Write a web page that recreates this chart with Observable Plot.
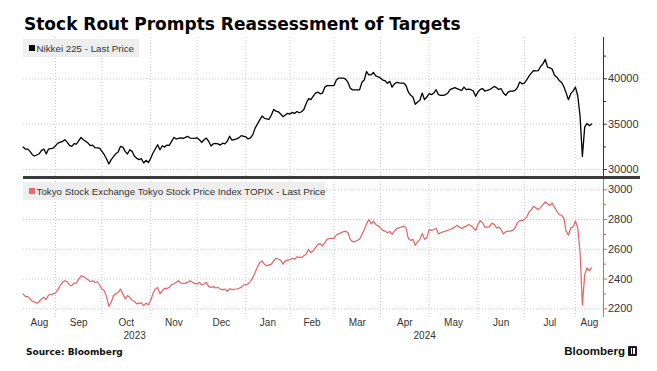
<!DOCTYPE html>
<html><head><meta charset="utf-8">
<script src="https://cdn.jsdelivr.net/npm/d3@7"></script>
<script src="https://cdn.jsdelivr.net/npm/@observablehq/plot@0.6"></script>
<style>
body{margin:0;background:#fff}
#chart{position:relative;width:657px;height:371px;overflow:hidden;background:#fff;font-family:"Liberation Sans",Arial,sans-serif}
.abs{position:absolute}
#title{left:24px;top:14px;font:bold 17px/20px "DejaVu Sans",sans-serif;color:#000;white-space:nowrap}
.legend{display:flex;align-items:center;box-sizing:border-box;height:18px;background:#eeeeee;color:#333;font-size:9.75px;padding-left:6px;white-space:nowrap}
.legend .sw{width:6px;height:6px;margin-right:1.5px;flex:none}
#sep{left:23px;top:176px;width:617px;height:2.6px;background:#3a3a3a}
#source{left:26px;top:346px;font:bold 9px/12px "DejaVu Sans",sans-serif;color:#111;white-space:nowrap}
#logo{right:20px;top:343px;display:flex;align-items:center;font:bold 11.5px/16px "Liberation Sans",Arial,sans-serif;color:#111}
#logo .ic{width:9px;height:10px;background:#1a1a1a;margin-left:3px;border-radius:1px;position:relative}
#logo .ic:before,#logo .ic:after{content:"";position:absolute;top:2px;width:1.5px;height:6px;background:#fff}
#logo .ic:before{left:2.5px}
#logo .ic:after{left:5px}
</style>
</head>
<body>
<div id="chart">
  <div id="title" class="abs">Stock Rout Prompts Reassessment of Targets</div>
  <div id="top" class="abs" style="left:0;top:37px"></div>
  <div id="bottom" class="abs" style="left:0;top:178px"></div>
  <div id="sep" class="abs"></div>
  <div class="abs legend" style="left:23px;top:39px;width:116px"><span class="sw" style="background:#000"></span>Nikkei 225 - Last Price</div>
  <div class="abs legend" style="left:23px;top:182px;width:302px"><span class="sw" style="background:#f06868"></span>Tokyo Stock Exchange Tokyo Stock Price Index TOPIX - Last Price</div>
  <div id="source" class="abs">Source: Bloomberg</div>
  <div id="logo" class="abs">Bloomberg<span class="ic"></span></div>
</div>
<script>
// ---- data ----
const holidays = ["2023-08-11","2023-09-18","2023-10-09","2023-11-03","2023-11-23","2024-01-01","2024-01-02","2024-01-03","2024-01-08","2024-02-12","2024-02-23","2024-03-20","2024-04-29","2024-05-03","2024-05-06","2024-07-15","2024-08-12"];
const calendarStart = "2023-08-14";
const calendarEnd = "2024-08-23";
const monthLabels = ["Aug","Sep","Oct","Nov","Dec","Jan","Feb","Mar","Apr","May","Jun","Jul","Aug"];
const yearLabels = ["2023","2024"];
const nikkeiTicks = [30000,35000,40000];
const nikkeiMinor = [32500,37500,42500];
const topixTicks = [2200,2400,2600,2800,3000];
const topixMinor = [2300,2500,2700,2900];

const nikkei = [
["2023-08-14",32480],["2023-08-15",32260],["2023-08-16",32260],["2023-08-17",32010],["2023-08-18",31640],["2023-08-21",31500],["2023-08-23",31750],["2023-08-24",32120],["2023-08-25",32260],["2023-08-28",31720],["2023-08-29",32260],["2023-08-31",32370],
["2023-09-01",32630],["2023-09-04",32920],["2023-09-06",33100],["2023-09-07",33290],["2023-09-08",33030],["2023-09-11",32660],["2023-09-12",32560],["2023-09-13",32850],["2023-09-14",32810],["2023-09-19",33540],["2023-09-20",33290],["2023-09-22",32920],["2023-09-25",32630],["2023-09-26",32700],["2023-09-27",32410],["2023-09-29",32370],
["2023-10-02",32010],["2023-10-03",31640],["2023-10-04",31170],["2023-10-05",30620],["2023-10-06",31100],["2023-10-11",31750],["2023-10-12",31930],["2023-10-13",32560],["2023-10-16",32480],["2023-10-17",32010],["2023-10-18",31720],["2023-10-19",32190],["2023-10-20",32010],["2023-10-23",31460],["2023-10-24",31240],["2023-10-25",31100],["2023-10-26",31200],["2023-10-27",30730],["2023-10-30",31020],["2023-10-31",30770],
["2023-11-01",31240],["2023-11-02",31830],["2023-11-07",32740],["2023-11-08",32190],["2023-11-09",32630],["2023-11-10",32480],["2023-11-13",32700],["2023-11-14",32660],["2023-11-16",33540],["2023-11-17",33390],["2023-11-21",33500],["2023-11-22",33430],["2023-11-27",33650],["2023-11-28",33470],["2023-11-30",33430],
["2023-12-01",33500],["2023-12-04",33290],["2023-12-05",32990],["2023-12-06",33290],["2023-12-07",33470],["2023-12-08",33100],["2023-12-11",32590],["2023-12-12",32840],["2023-12-13",32880],["2023-12-14",32840],["2023-12-15",32700],["2023-12-18",32910],["2023-12-19",32840],["2023-12-20",33130],["2023-12-21",33670],["2023-12-22",33240],["2023-12-25",33310],["2023-12-26",33380],["2023-12-27",33490],["2023-12-28",33740],
["2024-01-04",33600],["2024-01-05",33380],["2024-01-09",33490],["2024-01-10",33850],["2024-01-11",34570],["2024-01-15",35470],["2024-01-16",35900],["2024-01-17",35650],["2024-01-19",35540],["2024-01-22",36010],["2024-01-23",36620],["2024-01-24",36440],["2024-01-25",36370],["2024-01-26",36120],["2024-01-29",35830],["2024-01-30",36010],["2024-01-31",36190],
["2024-02-01",36120],["2024-02-02",36300],["2024-02-05",36190],["2024-02-06",36400],["2024-02-07",36260],["2024-02-08",36370],["2024-02-09",36620],["2024-02-13",37270],["2024-02-14",37810],["2024-02-15",37700],["2024-02-16",38060],["2024-02-19",38420],["2024-02-20",38530],["2024-02-21",38350],["2024-02-22",38420],["2024-02-26",39070],["2024-02-27",39250],["2024-02-28",39250],
["2024-03-01",39250],["2024-03-04",39860],["2024-03-05",40080],["2024-03-07",40080],["2024-03-08",39970],["2024-03-11",39610],["2024-03-12",38960],["2024-03-13",38780],["2024-03-14",38780],["2024-03-18",38780],["2024-03-19",39610],["2024-03-21",39860],["2024-03-22",40800],["2024-03-25",40440],["2024-03-26",40440],["2024-03-27",40690],["2024-03-28",40330],["2024-03-29",40220],
["2024-04-01",40080],["2024-04-02",39860],["2024-04-03",39790],["2024-04-04",39500],["2024-04-05",39720],["2024-04-08",39070],["2024-04-09",39430],["2024-04-10",39610],["2024-04-11",39540],["2024-04-12",39530],["2024-04-15",39530],["2024-04-16",39270],["2024-04-17",38550],["2024-04-18",38180],["2024-04-19",37990],["2024-04-22",37190],["2024-04-23",37450],["2024-04-24",37630],["2024-04-25",38430],["2024-04-26",37700],["2024-04-30",37990],
["2024-05-01",38360],["2024-05-02",38250],["2024-05-07",38430],["2024-05-08",38800],["2024-05-09",38250],["2024-05-10",38180],["2024-05-13",38180],["2024-05-14",38250],["2024-05-15",38430],["2024-05-16",38800],["2024-05-17",38910],["2024-05-20",39020],["2024-05-21",38910],["2024-05-22",38800],["2024-05-23",38720],["2024-05-24",39090],["2024-05-27",38800],["2024-05-28",38870],["2024-05-29",38800],["2024-05-30",38650],["2024-05-31",38070],
["2024-06-03",38540],["2024-06-04",38830],["2024-06-05",38910],["2024-06-06",38650],["2024-06-07",38720],["2024-06-10",38800],["2024-06-12",39160],["2024-06-13",39020],["2024-06-14",38830],["2024-06-17",38910],["2024-06-18",38430],["2024-06-19",38180],["2024-06-20",38540],["2024-06-21",38650],["2024-06-24",38650],["2024-06-25",38720],["2024-06-26",39020],["2024-06-27",39640],["2024-06-28",39450],
["2024-07-01",39530],["2024-07-02",39870],["2024-07-03",40290],["2024-07-04",40620],["2024-07-05",40910],["2024-07-08",40870],["2024-07-09",40900],["2024-07-10",41350],["2024-07-11",41640],["2024-07-12",42150],["2024-07-16",41280],["2024-07-17",41210],["2024-07-18",41060],["2024-07-19",40400],["2024-07-22",40180],["2024-07-23",39820],["2024-07-24",39600],["2024-07-25",39150],["2024-07-26",38450],["2024-07-29",37700],["2024-07-30",38360],["2024-07-31",38650],
["2024-08-01",39090],["2024-08-02",38130],["2024-08-05",35900],["2024-08-06",31450],["2024-08-07",34680],["2024-08-08",35090],["2024-08-09",34830],["2024-08-13",35030]
];

const topix = [
["2023-08-14",2300],["2023-08-15",2284],["2023-08-16",2282],["2023-08-17",2267],["2023-08-18",2251],["2023-08-22",2238],["2023-08-23",2249],["2023-08-24",2267],["2023-08-25",2278],["2023-08-28",2262],["2023-08-29",2293],["2023-08-31",2300],
["2023-09-01",2307],["2023-09-04",2327],["2023-09-05",2356],["2023-09-06",2378],["2023-09-07",2389],["2023-09-08",2382],["2023-09-11",2360],["2023-09-12",2356],["2023-09-13",2373],["2023-09-14",2373],["2023-09-15",2400],["2023-09-19",2422],["2023-09-20",2418],["2023-09-22",2396],["2023-09-25",2382],["2023-09-26",2389],["2023-09-27",2378],["2023-09-28",2382],["2023-09-29",2360],
["2023-10-02",2333],["2023-10-03",2322],["2023-10-04",2280],["2023-10-05",2216],["2023-10-06",2244],["2023-10-10",2289],["2023-10-12",2311],["2023-10-13",2333],["2023-10-16",2300],["2023-10-17",2267],["2023-10-18",2289],["2023-10-19",2278],["2023-10-20",2256],["2023-10-23",2249],["2023-10-24",2233],["2023-10-26",2240],["2023-10-27",2222],["2023-10-30",2238],["2023-10-31",2227],
["2023-11-01",2256],["2023-11-02",2304],["2023-11-06",2333],["2023-11-07",2344],["2023-11-08",2300],["2023-11-09",2322],["2023-11-10",2338],["2023-11-13",2336],["2023-11-14",2344],["2023-11-15",2362],["2023-11-16",2367],["2023-11-17",2378],["2023-11-20",2389],["2023-11-21",2373],["2023-11-24",2371],["2023-11-27",2378],["2023-11-28",2389],["2023-11-29",2378],["2023-11-30",2371],
["2023-12-01",2367],["2023-12-04",2378],["2023-12-05",2360],["2023-12-06",2367],["2023-12-07",2378],["2023-12-08",2349],["2023-12-11",2344],["2023-12-12",2349],["2023-12-13",2340],["2023-12-14",2344],["2023-12-15",2333],["2023-12-18",2327],["2023-12-19",2333],["2023-12-20",2318],["2023-12-21",2335],["2023-12-22",2329],["2023-12-26",2333],["2023-12-27",2338],["2023-12-28",2344],["2023-12-29",2360],
["2024-01-04",2362],["2024-01-05",2367],["2024-01-09",2384],["2024-01-10",2411],["2024-01-11",2444],["2024-01-12",2482],["2024-01-15",2511],["2024-01-16",2522],["2024-01-17",2500],["2024-01-18",2489],["2024-01-22",2500],["2024-01-23",2522],["2024-01-24",2540],["2024-01-25",2533],["2024-01-26",2527],["2024-01-29",2500],["2024-01-30",2522],["2024-01-31",2527],
["2024-02-01",2530],["2024-02-02",2540],["2024-02-05",2533],["2024-02-06",2549],["2024-02-08",2544],["2024-02-09",2556],["2024-02-13",2567],["2024-02-14",2600],["2024-02-15",2578],["2024-02-16",2589],["2024-02-19",2611],["2024-02-20",2633],["2024-02-21",2638],["2024-02-22",2622],["2024-02-26",2644],["2024-02-27",2667],["2024-02-28",2673],
["2024-03-01",2673],["2024-03-04",2696],["2024-03-05",2704],["2024-03-07",2718],["2024-03-08",2722],["2024-03-11",2711],["2024-03-12",2667],["2024-03-13",2651],["2024-03-14",2651],["2024-03-18",2667],["2024-03-19",2700],["2024-03-21",2733],["2024-03-22",2771],["2024-03-25",2800],["2024-03-26",2771],["2024-03-27",2789],["2024-03-28",2767],["2024-03-29",2756],
["2024-04-01",2744],["2024-04-02",2727],["2024-04-03",2722],["2024-04-04",2711],["2024-04-05",2720],["2024-04-08",2700],["2024-04-09",2722],["2024-04-10",2740],["2024-04-11",2744],["2024-04-12",2750],["2024-04-15",2756],["2024-04-16",2744],["2024-04-17",2673],["2024-04-18",2660],["2024-04-19",2667],["2024-04-22",2627],["2024-04-23",2651],["2024-04-24",2667],["2024-04-25",2707],["2024-04-26",2667],["2024-04-30",2678],
["2024-05-01",2733],["2024-05-02",2727],["2024-05-07",2733],["2024-05-08",2740],["2024-05-09",2704],["2024-05-10",2711],["2024-05-13",2718],["2024-05-14",2722],["2024-05-16",2733],["2024-05-20",2749],["2024-05-21",2762],["2024-05-22",2749],["2024-05-23",2740],["2024-05-24",2749],["2024-05-27",2756],["2024-05-28",2767],["2024-05-29",2758],["2024-05-30",2744],["2024-05-31",2727],
["2024-06-03",2767],["2024-06-04",2793],["2024-06-05",2778],["2024-06-06",2749],["2024-06-07",2749],["2024-06-10",2753],["2024-06-11",2776],["2024-06-12",2767],["2024-06-13",2744],["2024-06-14",2749],["2024-06-17",2733],["2024-06-18",2704],["2024-06-19",2718],["2024-06-20",2722],["2024-06-21",2722],["2024-06-24",2727],["2024-06-25",2744],["2024-06-26",2778],["2024-06-27",2793],["2024-06-28",2793],
["2024-07-01",2800],["2024-07-02",2816],["2024-07-03",2851],["2024-07-04",2867],["2024-07-05",2889],["2024-07-08",2878],["2024-07-09",2867],["2024-07-10",2882],["2024-07-11",2900],["2024-07-12",2918],["2024-07-16",2905],["2024-07-17",2895],["2024-07-18",2911],["2024-07-19",2882],["2024-07-22",2856],["2024-07-23",2833],["2024-07-24",2829],["2024-07-25",2811],["2024-07-26",2720],["2024-07-29",2696],["2024-07-30",2744],["2024-07-31",2750],
["2024-08-01",2790],["2024-08-02",2744],["2024-08-05",2580],["2024-08-06",2225],["2024-08-07",2430],["2024-08-08",2475],["2024-08-09",2455],["2024-08-13",2475]
];

// ---- trading-session calendar (x axis is in trading sessions) ----
const parse = d3.utcParse("%Y-%m-%d");
const fmt = d3.utcFormat("%Y-%m-%d");
const hol = new Set(holidays);
const sessions = [];
for (let d = parse(calendarStart); d <= parse(calendarEnd); d = d3.utcDay.offset(d, 1)) {
  const wd = d.getUTCDay();
  if (wd === 0 || wd === 6) continue;
  const s = fmt(d);
  if (!hol.has(s)) sessions.push(s);
}
const sIndex = new Map(sessions.map((s, i) => [s, i]));
const xDomain = [0.2, 250.1];

const monthStarts = [];
for (let i = 1; i < sessions.length; i++) {
  if (sessions[i].slice(0, 7) !== sessions[i - 1].slice(0, 7) && i <= xDomain[1]) monthStarts.push(i);
}
const bounds = [xDomain[0], ...monthStarts, xDomain[1]];
const monthTicks = monthLabels.map((label, i) => ({x: (bounds[i] + bounds[i + 1]) / 2, label}));
const janIdx = monthStarts[4];
const yearTicks = [
  {x: (xDomain[0] + janIdx) / 2, label: yearLabels[0]},
  {x: (janIdx + xDomain[1]) / 2, label: yearLabels[1]}
];

const nikkeiData = nikkei.map(([d, v]) => ({x: sIndex.get(d), y: v}));
const topixData = topix.map(([d, v]) => ({x: sIndex.get(d), y: v}));

const grid = {stroke: "#c8c8c8", strokeDasharray: "1,2", strokeWidth: 1};
const style = {fontFamily: "'Liberation Sans', Arial, sans-serif", fontSize: "11px", color: "#333", background: "none", overflow: "visible"};

const topPlot = Plot.plot({
  width: 657, height: 139,
  marginTop: 0, marginBottom: 0, marginLeft: 23, marginRight: 54,
  style,
  x: {domain: xDomain, axis: null},
  y: {domain: [29240, 44548], axis: null},
  marks: [
    Plot.ruleX(monthStarts, grid),
    Plot.ruleY(nikkeiTicks, grid),
    Plot.line(nikkeiData, {x: "x", y: "y", stroke: "#000", strokeWidth: 1.3}),
    Plot.ruleX([xDomain[1]], {stroke: "#333", strokeWidth: 1}),
    Plot.axisY({anchor: "right", ticks: nikkeiMinor, tickSize: 2, tickFormat: () => "", label: null, color: "#333"}),
    Plot.axisY({anchor: "right", ticks: nikkeiTicks, tickSize: 3, tickPadding: 1.5, tickFormat: "d", label: null, color: "#333", fontSize: 11})
  ]
});
document.getElementById("top").appendChild(topPlot);

const bottomPlot = Plot.plot({
  width: 657, height: 175,
  marginTop: 0, marginBottom: 36, marginLeft: 23, marginRight: 54,
  style,
  x: {domain: xDomain, axis: null},
  y: {domain: [2141.5, 3076], axis: null},
  marks: [
    Plot.ruleX(monthStarts, grid),
    Plot.ruleY(topixTicks, grid),
    Plot.line(topixData, {x: "x", y: "y", stroke: "#e8605f", strokeWidth: 1.2}),
    Plot.ruleX([xDomain[1]], {stroke: "#e8605f", strokeWidth: 1}),
    Plot.axisY({anchor: "right", ticks: topixMinor, tickSize: 2, tickFormat: () => "", label: null, color: "#e8605f"}),
    Plot.axisY({anchor: "right", ticks: topixTicks, tickSize: 3, tickFormat: () => "", label: null, color: "#e8605f"}),
    Plot.axisY({anchor: "right", ticks: topixTicks, tickSize: 0, tickPadding: 4.5, tickFormat: "d", label: null, color: "#333", fontSize: 11}),
    Plot.text(monthTicks, {x: "x", text: "label", frameAnchor: "bottom", dy: 8, fontSize: 10, fill: "#333"}),
    Plot.text(yearTicks, {x: "x", text: "label", frameAnchor: "bottom", dy: 21, fontSize: 10, fill: "#333"})
  ]
});
document.getElementById("bottom").appendChild(bottomPlot);
</script>
</body></html>
